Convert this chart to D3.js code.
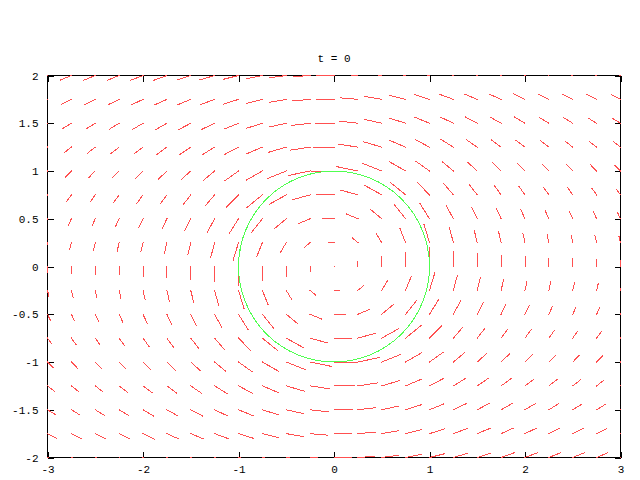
<!DOCTYPE html>
<html><head><meta charset="utf-8">
<script src="https://cdn.jsdelivr.net/npm/d3@7"></script>
<style>body{margin:0;background:#fff}</style>
</head><body>
<svg id="c" width="640" height="480"></svg>
<script>
// ---- data ----
const title = "t = 0";
const xs = [-3,-2.75,-2.5,-2.25,-2,-1.75,-1.5,-1.25,-1,-0.75,-0.5,-0.25,0,0.25,0.5,0.75,1,1.25,1.5,1.75,2,2.25,2.5,2.75,3];
const ys = [2,1.75,1.5,1.25,1,0.75,0.5,0.25,0,-0.25,-0.5,-0.75,-1,-1.25,-1.5,-1.75,-2];
const xTicks = [-3,-2,-1,0,1,2,3];
const yTicks = [-2,-1.5,-1,-0.5,0,0.5,1,1.5,2];
const circleCenter = [0,0];
const circleRadius = 1;
// horizontal component of each vector, one row per y value (top to bottom)
const dxRows = [
[-0.111,-0.115,-0.119,-0.124,-0.13,-0.137,-0.144,-0.152,-0.16,-0.168,-0.174,-0.179,-0.18,-0.179,-0.174,-0.168,-0.16,-0.152,-0.144,-0.137,-0.13,-0.124,-0.119,-0.115,-0.111],
[-0.099,-0.103,-0.108,-0.113,-0.12,-0.127,-0.136,-0.146,-0.156,-0.167,-0.176,-0.182,-0.184,-0.182,-0.176,-0.167,-0.156,-0.146,-0.136,-0.127,-0.12,-0.113,-0.108,-0.103,-0.099],
[-0.087,-0.091,-0.095,-0.101,-0.108,-0.117,-0.127,-0.139,-0.152,-0.167,-0.18,-0.19,-0.193,-0.19,-0.18,-0.167,-0.152,-0.139,-0.127,-0.117,-0.108,-0.101,-0.095,-0.091,-0.087],
[-0.074,-0.077,-0.082,-0.088,-0.095,-0.104,-0.116,-0.13,-0.148,-0.168,-0.188,-0.204,-0.21,-0.204,-0.188,-0.168,-0.148,-0.13,-0.116,-0.104,-0.095,-0.088,-0.082,-0.077,-0.074],
[-0.06,-0.063,-0.068,-0.073,-0.08,-0.089,-0.102,-0.118,-0.14,-0.168,-0.2,-0.228,-0.24,-0.228,-0.2,-0.168,-0.14,-0.118,-0.102,-0.089,-0.08,-0.073,-0.068,-0.063,-0.06],
[-0.046,-0.049,-0.052,-0.057,-0.063,-0.071,-0.083,-0.101,-0.126,-0.163,-0.18,-0.18,-0.18,-0.18,-0.18,-0.163,-0.126,-0.101,-0.083,-0.071,-0.063,-0.057,-0.052,-0.049,-0.046],
[-0.031,-0.033,-0.035,-0.039,-0.044,-0.05,-0.06,-0.075,-0.1,-0.12,-0.12,-0.12,-0.12,-0.12,-0.12,-0.12,-0.1,-0.075,-0.06,-0.05,-0.044,-0.039,-0.035,-0.033,-0.031],
[-0.016,-0.017,-0.018,-0.02,-0.022,-0.026,-0.032,-0.041,-0.057,-0.06,-0.06,-0.06,-0.06,-0.06,-0.06,-0.06,-0.057,-0.041,-0.032,-0.026,-0.022,-0.02,-0.018,-0.017,-0.016],
[0,0,0,0,0,0,0,0,0,0,0,0,0,0,0,0,0,0,0,0,0,0,0,0,0],
[0.016,0.017,0.018,0.02,0.022,0.026,0.032,0.041,0.057,0.06,0.06,0.06,0.06,0.06,0.06,0.06,0.057,0.041,0.032,0.026,0.022,0.02,0.018,0.017,0.016],
[0.031,0.033,0.035,0.039,0.044,0.05,0.06,0.075,0.1,0.12,0.12,0.12,0.12,0.12,0.12,0.12,0.1,0.075,0.06,0.05,0.044,0.039,0.035,0.033,0.031],
[0.046,0.049,0.052,0.057,0.063,0.071,0.083,0.101,0.126,0.163,0.18,0.18,0.18,0.18,0.18,0.163,0.126,0.101,0.083,0.071,0.063,0.057,0.052,0.049,0.046],
[0.06,0.063,0.068,0.073,0.08,0.089,0.102,0.118,0.14,0.168,0.2,0.228,0.24,0.228,0.2,0.168,0.14,0.118,0.102,0.089,0.08,0.073,0.068,0.063,0.06],
[0.074,0.077,0.082,0.088,0.095,0.104,0.116,0.13,0.148,0.168,0.188,0.204,0.21,0.204,0.188,0.168,0.148,0.13,0.116,0.104,0.095,0.088,0.082,0.077,0.074],
[0.087,0.091,0.095,0.101,0.108,0.117,0.127,0.139,0.152,0.167,0.18,0.19,0.193,0.19,0.18,0.167,0.152,0.139,0.127,0.117,0.108,0.101,0.095,0.091,0.087],
[0.099,0.103,0.108,0.113,0.12,0.127,0.136,0.146,0.156,0.167,0.176,0.182,0.184,0.182,0.176,0.167,0.156,0.146,0.136,0.127,0.12,0.113,0.108,0.103,0.099],
[0.111,0.115,0.119,0.124,0.13,0.137,0.144,0.152,0.16,0.168,0.174,0.179,0.18,0.179,0.174,0.168,0.16,0.152,0.144,0.137,0.13,0.124,0.119,0.115,0.111]
];
// vertical component of each vector, one row per y value (top to bottom)
const dyRows = [
[-0.046,-0.048,-0.049,-0.05,-0.05,-0.05,-0.048,-0.045,-0.04,-0.033,-0.024,-0.012,0,0.012,0.024,0.033,0.04,0.045,0.048,0.05,0.05,0.05,0.049,0.048,0.046],
[-0.05,-0.052,-0.054,-0.055,-0.057,-0.057,-0.056,-0.054,-0.049,-0.041,-0.03,-0.016,0,0.016,0.03,0.041,0.049,0.054,0.056,0.057,0.057,0.055,0.054,0.052,0.05],
[-0.053,-0.056,-0.059,-0.062,-0.064,-0.066,-0.067,-0.066,-0.062,-0.053,-0.04,-0.022,0,0.022,0.04,0.053,0.062,0.066,0.067,0.066,0.064,0.062,0.059,0.056,0.053],
[-0.057,-0.06,-0.064,-0.068,-0.072,-0.076,-0.079,-0.08,-0.078,-0.071,-0.055,-0.031,0,0.031,0.055,0.071,0.078,0.08,0.079,0.076,0.072,0.068,0.064,0.06,0.057],
[-0.06,-0.064,-0.069,-0.074,-0.08,-0.086,-0.092,-0.098,-0.1,-0.096,-0.08,-0.047,0,0.047,0.08,0.096,0.1,0.098,0.092,0.086,0.08,0.074,0.069,0.064,0.06],
[-0.063,-0.068,-0.073,-0.08,-0.088,-0.097,-0.107,-0.118,-0.128,-0.133,-0.1,-0.05,0,0.05,0.1,0.133,0.128,0.118,0.107,0.097,0.088,0.08,0.073,0.068,0.063],
[-0.065,-0.07,-0.077,-0.085,-0.094,-0.106,-0.12,-0.138,-0.16,-0.15,-0.1,-0.05,0,0.05,0.1,0.15,0.16,0.138,0.12,0.106,0.094,0.085,0.077,0.07,0.065],
[-0.066,-0.072,-0.079,-0.088,-0.098,-0.112,-0.13,-0.154,-0.188,-0.15,-0.1,-0.05,0,0.05,0.1,0.15,0.188,0.154,0.13,0.112,0.098,0.088,0.079,0.072,0.066],
[-0.067,-0.073,-0.08,-0.089,-0.1,-0.114,-0.133,-0.16,-0.2,-0.15,-0.1,-0.05,0,0.05,0.1,0.15,0.2,0.16,0.133,0.114,0.1,0.089,0.08,0.073,0.067],
[-0.066,-0.072,-0.079,-0.088,-0.098,-0.112,-0.13,-0.154,-0.188,-0.15,-0.1,-0.05,0,0.05,0.1,0.15,0.188,0.154,0.13,0.112,0.098,0.088,0.079,0.072,0.066],
[-0.065,-0.07,-0.077,-0.085,-0.094,-0.106,-0.12,-0.138,-0.16,-0.15,-0.1,-0.05,0,0.05,0.1,0.15,0.16,0.138,0.12,0.106,0.094,0.085,0.077,0.07,0.065],
[-0.063,-0.068,-0.073,-0.08,-0.088,-0.097,-0.107,-0.118,-0.128,-0.133,-0.1,-0.05,0,0.05,0.1,0.133,0.128,0.118,0.107,0.097,0.088,0.08,0.073,0.068,0.063],
[-0.06,-0.064,-0.069,-0.074,-0.08,-0.086,-0.092,-0.098,-0.1,-0.096,-0.08,-0.047,0,0.047,0.08,0.096,0.1,0.098,0.092,0.086,0.08,0.074,0.069,0.064,0.06],
[-0.057,-0.06,-0.064,-0.068,-0.072,-0.076,-0.079,-0.08,-0.078,-0.071,-0.055,-0.031,0,0.031,0.055,0.071,0.078,0.08,0.079,0.076,0.072,0.068,0.064,0.06,0.057],
[-0.053,-0.056,-0.059,-0.062,-0.064,-0.066,-0.067,-0.066,-0.062,-0.053,-0.04,-0.022,0,0.022,0.04,0.053,0.062,0.066,0.067,0.066,0.064,0.062,0.059,0.056,0.053],
[-0.05,-0.052,-0.054,-0.055,-0.057,-0.057,-0.056,-0.054,-0.049,-0.041,-0.03,-0.016,0,0.016,0.03,0.041,0.049,0.054,0.056,0.057,0.057,0.055,0.054,0.052,0.05],
[-0.046,-0.048,-0.049,-0.05,-0.05,-0.05,-0.048,-0.045,-0.04,-0.033,-0.024,-0.012,0,0.012,0.024,0.033,0.04,0.045,0.048,0.05,0.05,0.05,0.049,0.048,0.046]
];

// ---- drawing ----
const FONT = "'Liberation Mono', 'DejaVu Sans Mono', monospace";
const svg = d3.select("#c");
const x = d3.scaleLinear().domain([-3,3]).range([47.5,620.5]);
const y = d3.scaleLinear().domain([-2,2]).range([457.5,75.5]);

svg.append("text")
  .attr("x", (x.range()[0]+x.range()[1])/2).attr("y", 62)
  .attr("text-anchor","middle")
  .attr("font-family",FONT).attr("font-size",11).attr("fill","#000")
  .text(title);

function styleAxis(g){
  g.select(".domain").remove();
  g.selectAll(".tick line").attr("stroke","#000").attr("shape-rendering","crispEdges");
  g.selectAll(".tick text").attr("font-family",FONT).attr("font-size",11).attr("fill","#000");
}
const fmt = d => String(d);
svg.append("g").attr("transform",`translate(0,${y(-2)})`)
  .call(d3.axisBottom(x).tickValues(xTicks).tickSize(-6).tickPadding(8).tickFormat(fmt)).call(styleAxis);
svg.append("g").attr("transform",`translate(0,${y(2)})`)
  .call(d3.axisTop(x).tickValues(xTicks).tickSize(-6).tickFormat("")).call(styleAxis);
svg.append("g").attr("transform",`translate(${x(-3)},0)`)
  .call(d3.axisLeft(y).tickValues(yTicks).tickSize(-6).tickPadding(9).tickFormat(fmt)).call(styleAxis);
svg.append("g").attr("transform",`translate(${x(3)},0)`)
  .call(d3.axisRight(y).tickValues(yTicks).tickSize(-6).tickFormat("")).call(styleAxis);

// border
svg.append("rect")
  .attr("x", x(-3)).attr("y", y(2))
  .attr("width", x(3)-x(-3)).attr("height", y(-2)-y(2))
  .attr("fill","none").attr("stroke","#000").attr("shape-rendering","crispEdges");

// clip
svg.append("defs").append("clipPath").attr("id","plotclip")
  .append("rect")
  .attr("x", x(-3)-0.5).attr("y", y(2)-0.5)
  .attr("width", x(3)-x(-3)+1).attr("height", y(-2)-y(2)+1);

const segs = [];
ys.forEach((yv,i) => xs.forEach((xv,j) => segs.push({x:xv, y:yv, dx:dxRows[i][j], dy:dyRows[i][j]})));

svg.append("g").attr("clip-path","url(#plotclip)")
  .selectAll("line").data(segs).join("line")
  .attr("x1", d => x(d.x)).attr("y1", d => y(d.y))
  .attr("x2", d => x(d.x+d.dx)).attr("y2", d => y(d.y+d.dy))
  .attr("stroke","#ff5050").attr("stroke-width",1)
  .attr("stroke-linecap","square")
  .attr("shape-rendering","crispEdges");

svg.append("g").attr("clip-path","url(#plotclip)")
  .append("ellipse")
  .attr("cx", x(circleCenter[0])).attr("cy", y(circleCenter[1]))
  .attr("rx", x(circleRadius)-x(0)).attr("ry", y(0)-y(circleRadius))
  .attr("fill","none").attr("stroke","#50ff50").attr("stroke-width",1)
  .attr("shape-rendering","crispEdges");
</script>
</body></html>
